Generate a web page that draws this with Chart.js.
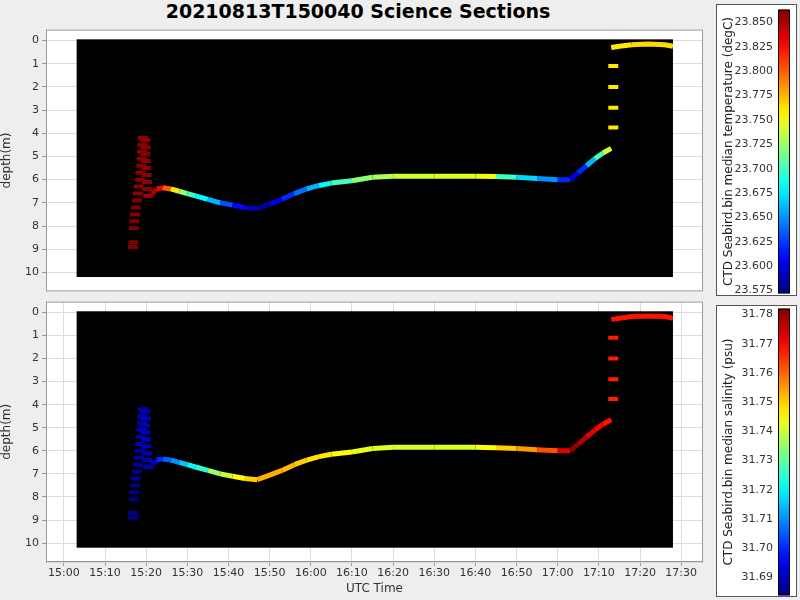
<!DOCTYPE html>
<html>
<head>
<meta charset="utf-8">
<script src="https://cdn.jsdelivr.net/npm/chart.js@4/dist/chart.umd.min.js"></script>
<style>
  body { margin:0; background:#eeeeee; font-family:"DejaVu Sans", sans-serif; }
  #title { position:absolute; left:0; width:716px; top:0; text-align:center; font-weight:bold; font-size:19px; }
  canvas { position:absolute; }
  .cbox { position:absolute; background:#fff; border:1px solid #555; }
</style>
</head>
<body>
<div id="title">20210813T150040 Science Sections</div>
<canvas id="c1" style="left:0;top:20px" width="712" height="281"></canvas>
<canvas id="c2" style="left:0;top:292px" width="712" height="308"></canvas>
<div class="cbox" style="left:716px;top:4px;width:79px;height:290px"></div>
<div class="cbox" style="left:716px;top:305px;width:79px;height:290px"></div>
<canvas id="cb1" style="left:716px;top:1px" width="80" height="301"></canvas>
<canvas id="cb2" style="left:716px;top:300px" width="80" height="304"></canvas>
<script>
// minutes after 15:00
const minutes = [16.8,16.9,17.0,17.1,17.3,17.5,17.8,18.0,18.2,18.5,18.6,18.8,18.9,19.0,19.1,19.2,
  19.8,19.9,19.8,19.9,20.0,20.1,20.2,20.3,20.5,
  21.5,22.5,24,26,28,30,32,35,38,41,44,47,50,53,56,59,62,65,70,75,80,90,100,105,110,115,120,123,
  125,127,129,131,133,133.5,133.5,133.5,133.5,133,135,138,142,146,148];
const depths = [8.9,8.7,8.1,7.8,7.5,7.2,6.9,6.6,6.3,6.0,5.7,5.4,5.1,4.8,4.5,4.2,
  4.3,4.6,4.9,5.2,5.5,5.8,6.1,6.4,6.7,
  6.6,6.4,6.35,6.4,6.5,6.6,6.7,6.85,7.0,7.1,7.2,7.25,7.05,6.85,6.6,6.4,6.25,6.15,6.05,5.9,5.85,5.85,5.85,5.87,5.9,5.95,6.0,6.0,
  5.7,5.4,5.1,4.85,4.65,3.75,2.9,2.0,1.1,0.3,0.25,0.18,0.15,0.18,0.25];
const temps = [23.88,23.88,23.88,23.88,23.87,23.87,23.87,23.86,23.86,23.86,23.86,23.86,23.86,23.86,23.86,23.86,
  23.86,23.86,23.86,23.86,23.86,23.86,23.86,23.86,23.85,
  23.85,23.83,23.80,23.76,23.72,23.70,23.68,23.66,23.63,23.61,23.59,23.58,23.60,23.62,23.64,23.66,23.68,23.70,23.72,23.73,23.74,23.745,23.75,23.70,23.67,23.65,23.62,23.60,
  23.62,23.66,23.70,23.74,23.76,23.76,23.76,23.76,23.76,23.76,23.76,23.765,23.765,23.765,23.765];
const salts = [31.684,31.684,31.684,31.685,31.685,31.686,31.686,31.687,31.687,31.688,31.688,31.688,31.689,31.689,31.689,31.689,
  31.689,31.689,31.689,31.689,31.69,31.69,31.69,31.69,31.69,
  31.69,31.70,31.705,31.71,31.715,31.72,31.725,31.735,31.74,31.745,31.75,31.753,31.753,31.752,31.75,31.748,31.747,31.745,31.743,31.742,31.741,31.742,31.745,31.75,31.755,31.762,31.772,31.78,
  31.777,31.772,31.77,31.768,31.767,31.767,31.767,31.767,31.767,31.768,31.768,31.768,31.768,31.768,31.768];
// [first, last, drawn as line]
const pieces = [[0, 24, false], [25, 57, true], [58, 61, false], [62, 67, true]];
const tempRange = [23.572, 23.8633];
const saltRange = [31.6838, 31.782];
const bgBox = [3.1, 148, -0.05, 10.2]; // xmin, xmax, depth top, depth bottom

function jet(v) {
  v = Math.max(0, Math.min(1, v));
  const f = t => Math.round(255 * Math.max(0, Math.min(1, 1.5 - Math.abs(4 * v - t))));
  return `rgb(${f(3)},${f(2)},${f(1)})`;
}
const colorsFor = (vals, r) => vals.map(v => jet((v - r[0]) / (r[1] - r[0])));
const fmtTime = m => { const t = 15 * 60 + m; return Math.floor(t / 60) + ':' + String(t % 60).padStart(2, '0'); };

const blackBox = {
  id: 'blackBox',
  beforeDatasetsDraw(chart) {
    const { x, y } = chart.scales, ctx = chart.ctx;
    const x0 = x.getPixelForValue(bgBox[0]), x1 = x.getPixelForValue(bgBox[1]);
    const y0 = y.getPixelForValue(bgBox[2]), y1 = y.getPixelForValue(bgBox[3]);
    ctx.save(); ctx.fillStyle = '#000'; ctx.fillRect(x0, y0, x1 - x0, y1 - y0); ctx.restore();
  }
};
const frame = {
  id: 'frame',
  beforeDraw(chart) {
    const a = chart.chartArea, ctx = chart.ctx;
    ctx.save(); ctx.fillStyle = '#fff'; ctx.fillRect(a.left, a.top, a.width, a.height); ctx.restore();
  },
  afterDraw(chart) {
    const a = chart.chartArea, ctx = chart.ctx;
    ctx.save(); ctx.strokeStyle = '#999'; ctx.lineWidth = 1;
    ctx.strokeRect(a.left + 0.5, a.top + 0.5, a.width - 1, a.height - 1); ctx.restore();
  }
};

Chart.defaults.font.family = '"DejaVu Sans", sans-serif';
Chart.defaults.font.size = 11;
Chart.defaults.color = '#333';

function section(id, colors, showX, bottomPad) {
  const datasets = pieces.map(([a, b, line]) => {
    const pts = [], cols = [];
    for (let i = a; i <= b; i++) { pts.push({ x: minutes[i], y: depths[i] }); cols.push(colors[i]); }
    return line
      ? { data: pts, showLine: true, tension: 0, borderWidth: 5, pointRadius: 0,
          segment: { borderColor: c => cols[c.p0DataIndex] } }
      : { data: pts, pointStyle: 'line', pointRadius: 5, pointBorderWidth: 4,
          pointBorderColor: cols, pointBackgroundColor: cols };
  });
  return new Chart(document.getElementById(id), {
    type: 'scatter',
    data: { datasets },
    options: {
      responsive: false, animation: false,
      layout: { padding: { top: 0, right: 4, bottom: bottomPad } },
      plugins: { legend: { display: false }, tooltip: { enabled: false } },
      scales: {
        x: { type: 'linear', min: -4.34, max: 155.3, display: showX,
          afterBuildTicks: s => { s.ticks = []; for (let m = 0; m <= 150; m += 10) s.ticks.push({ value: m }); },
          afterFit: s => { if (showX) s.height = 34; },
          ticks: { callback: v => fmtTime(v), maxRotation: 0, autoSkip: false, padding: 1 },
          grid: { color: '#ddd', tickColor: '#999', tickLength: 4 },
          title: { display: true, text: 'UTC Time', font: { size: 12 }, padding: 0 } },
        y: { reverse: true, min: -0.47, max: 10.82,
          afterBuildTicks: s => { s.ticks = []; for (let d = 0; d <= 10; d++) s.ticks.push({ value: d }); },
          afterFit: s => { s.width = 46; },
          grid: { color: '#ddd', tickColor: '#999', tickLength: 4 },
          title: { display: true, text: 'depth(m)', font: { size: 12 }, padding: 0 } }
      }
    },
    plugins: [frame, blackBox]
  });
}
Chart.defaults.scale.grid.borderDash = [4, 4];

section('c1', colorsFor(temps, tempRange), false, 0);
section('c2', colorsFor(salts, saltRange), true, 4);

function colorbar(id, range, step, dec, label) {
  const grad = {
    id: 'grad',
    beforeDatasetsDraw(chart) {
      const a = chart.chartArea, ctx = chart.ctx;
      const g = ctx.createLinearGradient(0, a.bottom, 0, a.top);
      for (let i = 0; i <= 20; i++) g.addColorStop(i / 20, jet(i / 20));
      ctx.save(); ctx.fillStyle = g; ctx.fillRect(a.left, a.top, a.width, a.height);
      ctx.strokeStyle = '#000'; ctx.strokeRect(a.left + 0.5, a.top + 0.5, a.width - 1, a.height - 1); ctx.restore();
    }
  };
  return new Chart(document.getElementById(id), {
    type: 'scatter', data: { datasets: [] },
    options: {
      responsive: false, animation: false,
      layout: { padding: { top: 0, left: 6, right: 6, bottom: 0 } },
      plugins: { legend: { display: false } },
      scales: {
        x: { display: false, min: 0, max: 1 },
        y: { position: 'left', min: range[0], max: range[1],
          afterBuildTicks: s => { s.ticks = []; const n0 = Math.ceil(range[0] / step - 1e-6);
            for (let k = n0; k * step <= range[1] + 1e-9; k++) s.ticks.push({ value: k * step }); },
          afterFit: s => { s.width = 56; },
          ticks: { callback: v => v.toFixed(dec), color: '#333', font: { size: 11 }, padding: 2 },
          grid: { display: false, drawTicks: true, tickLength: 3 },
          border: { display: false },
          title: { display: true, text: label, font: { size: 12 }, color: '#222', padding: 0 } }
      }
    },
    plugins: [grad]
  });
}
colorbar('cb1', tempRange, 0.025, 3, 'CTD Seabird.bin median temperature (degC)');
colorbar('cb2', saltRange, 0.01, 2, 'CTD Seabird.bin median salinity (psu)');
</script>
</body>
</html>
